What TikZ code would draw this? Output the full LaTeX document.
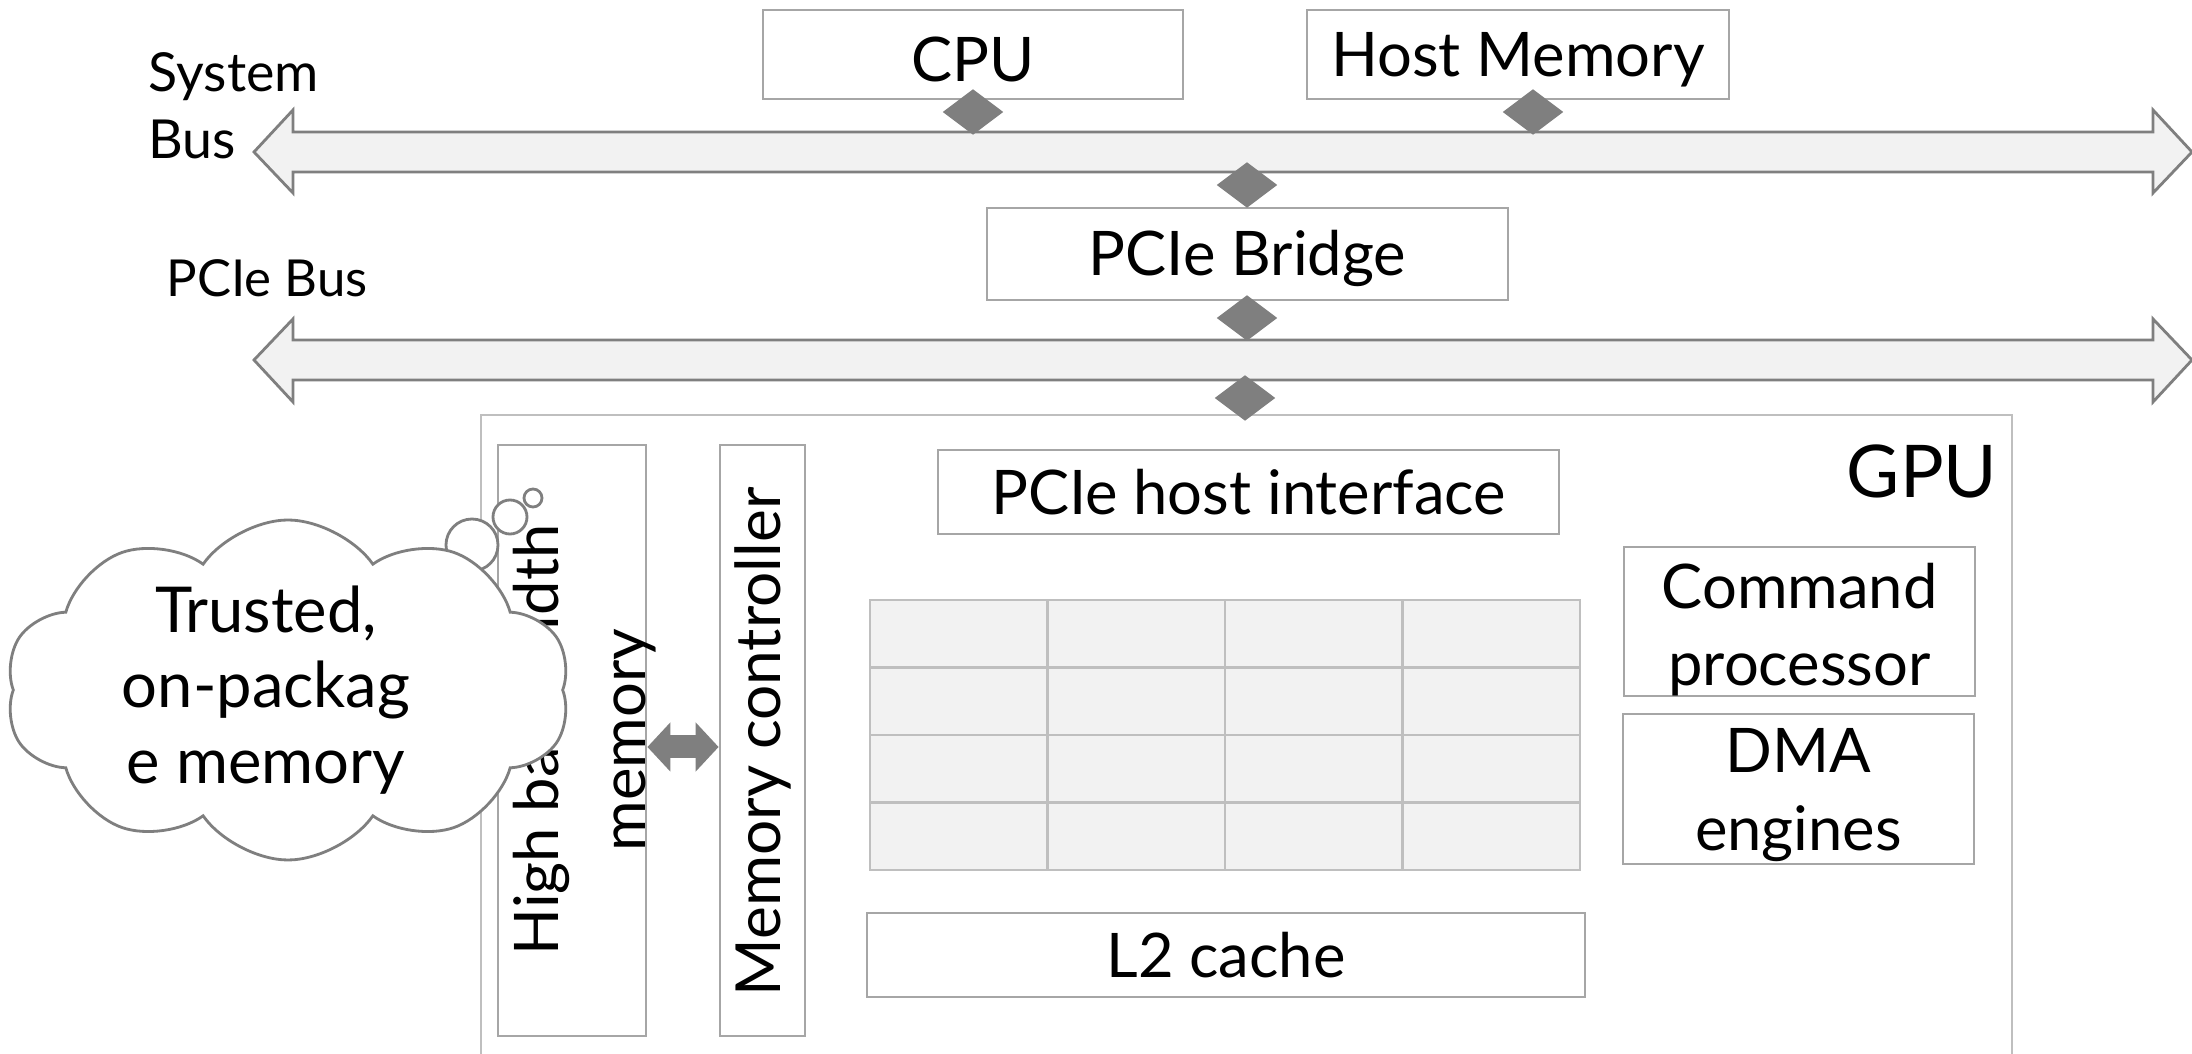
\documentclass[tikz,border=0pt]{standalone}
\usepackage{fontspec}
\setmainfont{Lato}
\usetikzlibrary{shapes.geometric,shapes.symbols,arrows.meta}
\definecolor{boxline}{HTML}{A6A6A6}
\definecolor{dgray}{HTML}{7F7F7F}
\definecolor{lfill}{HTML}{F2F2F2}
\definecolor{gline}{HTML}{BFBFBF}
\newcommand\lowertext[2]{\raisebox{-#1}[\height][\depth]{#2}}
\tikzset{
  box/.style={draw=boxline, line width=0.8pt, fill=white, inner sep=0pt, align=center,
    font=\fontsize{17.5}{20.2}\selectfont},
  twoline/.style={font=\fontsize{17.5}{22}\selectfont},
  conn/.style={diamond, fill=dgray, draw=none, inner sep=0pt, minimum width=6.1mm, minimum height=4.6mm},
  bus/.style={draw=dgray, fill=lfill, line width=0.8pt, line join=miter},
  cell/.style={draw=gline, fill=lfill, line width=0.8pt, inner sep=0pt, minimum width=17.75mm, minimum height=6.75mm},
  rottext/.style={rotate=90, align=center, inner sep=0pt},
  fat/.style={draw=dgray, line width=2.3mm, {Triangle[length=2.3mm,width=4.8mm]}-{Triangle[length=2.3mm,width=4.8mm]}},
  buslabel/.style={align=left, anchor=west, inner sep=0pt},
  bubble/.style={draw=dgray, line width=0.8pt, fill=white},
}
\begin{document}
\begin{tikzpicture}[x=0.1mm,y=-0.1mm]
\useasboundingbox (0,0) rectangle (2192,1054);
\clip (0,0) rectangle (2192,1054);
\fill[white] (0,0) rectangle (2192,1054);

% host side
\node[box, minimum width=42mm, minimum height=8.9mm] (cpu) at (973,54.5) {\lowertext{0.5mm}{CPU}};
\node[box, minimum width=42.2mm, minimum height=8.9mm] (hostmem) at (1518,54.5) {\lowertext{0.5mm}{Host Memory}};
\node[box, minimum width=52.1mm, minimum height=9.2mm] (bridge) at (1247.5,254) {\lowertext{0.4mm}{PCIe Bridge}};

\node[buslabel, font=\fontsize{15.3}{19}\selectfont] (syslabel) at (148,106) {System\\Bus};
\node[buslabel, font=\fontsize{14.5}{19}\selectfont] (pcielabel) at (166,278) {PCIe Bus};

% buses
\draw[bus] (254,152) -- (293,110) -- (293,132) -- (2153,132) -- (2153,110) -- (2192,152)
  -- (2153,193) -- (2153,172) -- (293,172) -- (293,193) -- cycle;
\coordinate (sysbus) at (1247,152);
\draw[bus] (254,360) -- (293,319) -- (293,340) -- (2153,340) -- (2153,319) -- (2192,360)
  -- (2153,402) -- (2153,380) -- (293,380) -- (293,402) -- cycle;
\coordinate (pciebus) at (1247,360);

% GPU
\node[draw=gline, line width=0.8pt, inner sep=0pt, minimum width=153.1mm, minimum height=68.5mm] (gpu) at (1246.5,757.5) {};
\node[anchor=east, inner sep=0pt, font=\fontsize{20.7}{24}\selectfont] (gpulabel) at (1998,471) {GPU};

\node[box, minimum width=14.8mm, minimum height=59.1mm] (hbm) at (572,740.5) {};
\node[rottext, font=\fontsize{17.5}{24.8}\selectfont] (hbmtext) at (585,740) {High bandwidth\\memory};
\node[box, minimum width=8.5mm, minimum height=59.1mm] (mc) at (762.5,740.5) {};
\node[rottext, font=\fontsize{17.7}{21}\selectfont] (mctext) at (762.5,742) {Memory controller};
\draw[fat] ([yshift=-0.65mm]hbm.east) -- ([yshift=-0.65mm]mc.west);

\node[box, minimum width=62.1mm, minimum height=8.4mm] (hostif) at (1248.5,492) {PCIe host interface};
\foreach \r in {0,...,3} \foreach \c in {0,...,3}
  \node[cell] (cell-\r-\c) at ({958.75+177.5*\c},{633.75+67.5*\r}) {};
\node[box, twoline, minimum width=35.1mm, minimum height=14.9mm] (cmd) at (1799.5,621.5) {\lowertext{0.8mm}{\parbox{35mm}{\centering Command\\processor}}};
\node[box, twoline, minimum width=35.1mm, minimum height=15mm] (dma) at (1798.5,789) {\lowertext{0.6mm}{\parbox{35mm}{\centering DMA\\engines}}};
\node[box, minimum width=71.8mm, minimum height=8.4mm] (l2) at (1226,955) {L2 cache};

% connectors (diamonds)
\node[conn] (d1) at (973,112) {};
\node[conn] (d2) at (1533,112) {};
\node[conn] (d3) at (1247,185) {};
\node[conn] (d4) at (1247,318) {};
\node[conn] (d5) at (1245,398) {};

% thought bubble
\node[bubble, circle, inner sep=0pt, minimum size=5.2mm] (b1) at (472,545) {};
\node[bubble, circle, inner sep=0pt, minimum size=3.4mm] (b2) at (510,517) {};
\node[bubble, circle, inner sep=0pt, minimum size=1.8mm] (b3) at (533,498) {};
\node[cloud, draw=dgray, fill=white, line width=0.8pt, cloud puffs=10, cloud puff arc=110, aspect=1.8,
  minimum width=56.5mm, minimum height=34mm, inner sep=0pt] (cloud) at (288,690) {};
\node[align=center, inner sep=0pt, font=\fontsize{18}{21.5}\selectfont] (cloudtext) at (266,690) {Trusted,\\on-packag\\e memory};
\end{tikzpicture}
\end{document}
